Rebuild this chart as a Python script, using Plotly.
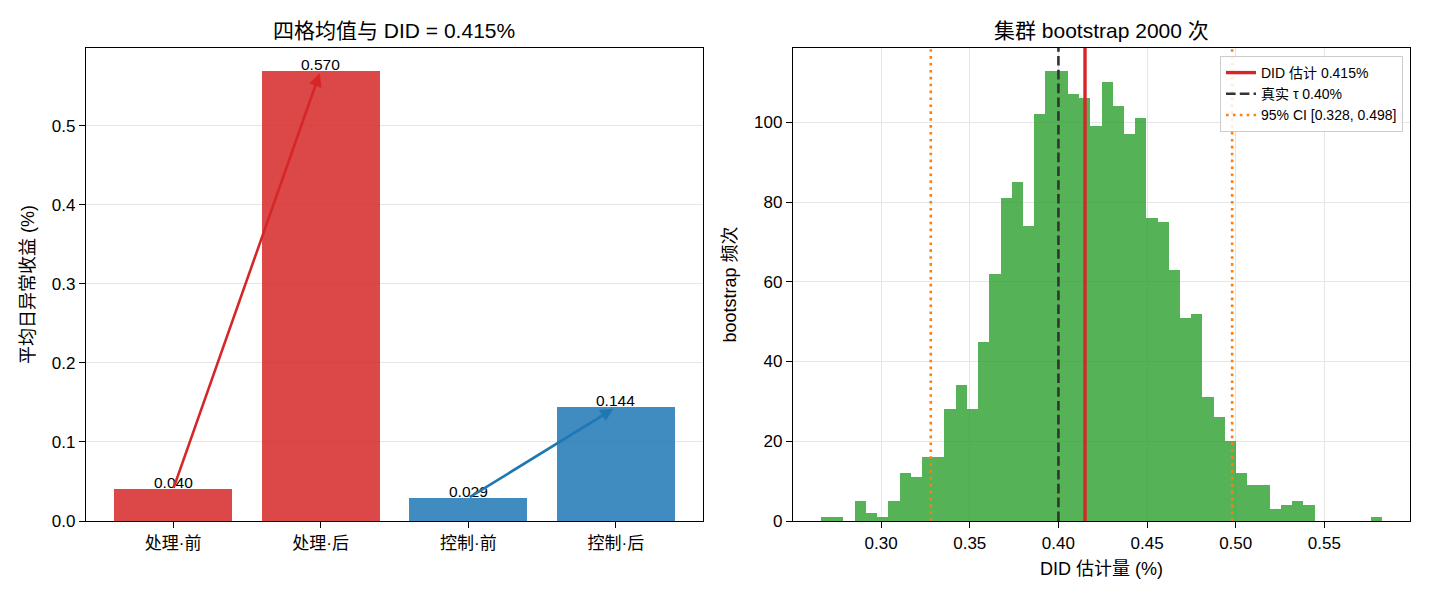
import plotly.graph_objects as go

# ---------------- data ----------------
categories = ["处理·前", "处理·后", "控制·前", "控制·后"]
cell_means = [0.040, 0.570, 0.029, 0.144]

boot_counts = [1, 1, 0, 5, 2, 1, 5, 12, 11, 16,
               16, 28, 34, 28, 45, 62, 81, 85, 74, 102,
               113, 113, 107, 106, 99, 110, 104, 97, 101, 76,
               75, 63, 51, 52, 31, 26, 20, 12, 9, 9,
               3, 4, 5, 4, 0, 0, 0, 0, 0, 1]
boot_min = 0.2661
boot_max = 0.5825
did_est = 0.415
true_tau = 0.40
ci_low, ci_high = 0.328, 0.498

left_title = "四格均值与 DID = 0.415%"
right_title = "集群 bootstrap 2000 次"

# ---------------- styles ----------------
RED = "#d62728"
BLUE = "#1f77b4"
GREEN = "#2ca02c"
FONT = "Liberation Sans, Arial, Noto Sans CJK SC, sans-serif"
bar_colors = [RED, RED, BLUE, BLUE]

W, H = 1430, 598
def px_x(p):
    return p / W
def px_y(p):
    return 1 - p / H

n_bins = len(boot_counts)
bw = (boot_max - boot_min) / n_bins
centers = [boot_min + (i + 0.5) * bw for i in range(n_bins)]

fig = go.Figure()

# left bars
fig.add_trace(go.Bar(
    x=list(range(len(categories))), y=cell_means, width=0.8,
    marker=dict(color=bar_colors, line=dict(width=0)), opacity=0.85,
    xaxis="x", yaxis="y", showlegend=False, hoverinfo="skip"))

# histogram
fig.add_trace(go.Bar(
    x=centers, y=boot_counts, width=bw,
    marker=dict(color=GREEN, line=dict(width=0)), opacity=0.8,
    xaxis="x2", yaxis="y2", showlegend=False, hoverinfo="skip"))

ymax2 = max(boot_counts) * 1.05
fig.add_trace(go.Scatter(x=[did_est, did_est], y=[0, ymax2], mode="lines",
                         line=dict(color=RED, width=3.4),
                         name=f"DID 估计 {did_est:.3f}%", xaxis="x2", yaxis="y2"))
fig.add_trace(go.Scatter(x=[true_tau, true_tau], y=[0, ymax2], mode="lines",
                         line=dict(color="#333333", width=2.6, dash="9.6px,4.2px"),
                         name=f"真实 τ {true_tau:.2f}%", xaxis="x2", yaxis="y2"))
fig.add_trace(go.Scatter(x=[ci_low, ci_low, None, ci_high, ci_high], y=[0, ymax2, None, 0, ymax2],
                         mode="lines",
                         line=dict(color="#ff7f0e", width=2.6, dash="2.6px,4.3px"),
                         name=f"95% CI [{ci_low:.3f}, {ci_high:.3f}]", xaxis="x2", yaxis="y2"))

annotations = []
# bar value labels
for i, v in enumerate(cell_means):
    annotations.append(dict(x=i, y=v, xref="x", yref="y", text=f"{v:.3f}",
                            showarrow=False, yanchor="bottom", yshift=-4,
                            font=dict(size=15.5, color="black", family=FONT)))
# arrows
for (a, b), col in [((0, 1), RED), ((2, 3), BLUE)]:
    annotations.append(dict(x=b, y=cell_means[b], ax=a, ay=cell_means[a],
                            xref="x", yref="y", axref="x", ayref="y",
                            text="", showarrow=True, arrowhead=2, arrowsize=1,
                            arrowwidth=2.6, arrowcolor=col, standoff=3))
# titles
L0, L1, R0, R1 = 86, 703, 793, 1410
T, B = 48, 521
annotations.append(dict(x=px_x((L0 + L1) / 2), y=px_y(31), xref="paper", yref="paper",
                        text=left_title, showarrow=False, xanchor="center", yanchor="middle",
                        font=dict(size=21, color="black", family=FONT)))
annotations.append(dict(x=px_x((R0 + R1) / 2), y=px_y(31), xref="paper", yref="paper",
                        text=right_title, showarrow=False, xanchor="center", yanchor="middle",
                        font=dict(size=21, color="black", family=FONT)))

axis_common = dict(showline=True, linecolor="black", linewidth=1.3, mirror=True,
                   ticks="outside", ticklen=6, tickwidth=1.3, tickcolor="black",
                   tickfont=dict(size=17, color="black", family=FONT),
                   zeroline=False, gridcolor="#e6e6e6", gridwidth=1.2,
                   automargin=False)

fig.update_layout(
    width=W, height=H,
    margin=dict(l=0, r=0, t=0, b=0, autoexpand=False),
    paper_bgcolor="white", plot_bgcolor="white",
    font=dict(family=FONT, color="black"),
    xaxis=dict(domain=[px_x(L0), px_x(L1)], anchor="y",
               range=[-0.59, len(categories) - 1 + 0.59],
               tickvals=list(range(len(categories))), ticktext=categories,
               showgrid=False, **axis_common),
    yaxis=dict(domain=[px_y(B), px_y(T)], anchor="x",
               range=[0, max(cell_means) * 1.05], dtick=0.1, tickformat=".1f",
               showgrid=True,
               title=dict(text="平均日异常收益 (%)", font=dict(size=18, family=FONT), standoff=12),
               **axis_common),
    xaxis2=dict(domain=[px_x(R0), px_x(R1)], anchor="y2",
                range=[boot_min - 0.05 * (boot_max - boot_min), boot_max + 0.05 * (boot_max - boot_min)],
                dtick=0.05, tick0=0.30, tickformat=".2f", showgrid=True,
                title=dict(text="DID 估计量 (%)", font=dict(size=18, family=FONT), standoff=10),
                **axis_common),
    yaxis2=dict(domain=[px_y(B), px_y(T)], anchor="x2",
                range=[0, ymax2], dtick=20, showgrid=True,
                title=dict(text="bootstrap 频次", font=dict(size=18, family=FONT), standoff=12),
                **axis_common),
    legend=dict(x=px_x(1403), y=px_y(56), xanchor="right", yanchor="top",
                bgcolor="rgba(255,255,255,0.85)", bordercolor="#cccccc", borderwidth=1,
                font=dict(size=14, color="black", family=FONT),
                tracegroupgap=0, itemwidth=30),
    annotations=annotations,
    bargap=0,
)

fig.write_html("out.html")
